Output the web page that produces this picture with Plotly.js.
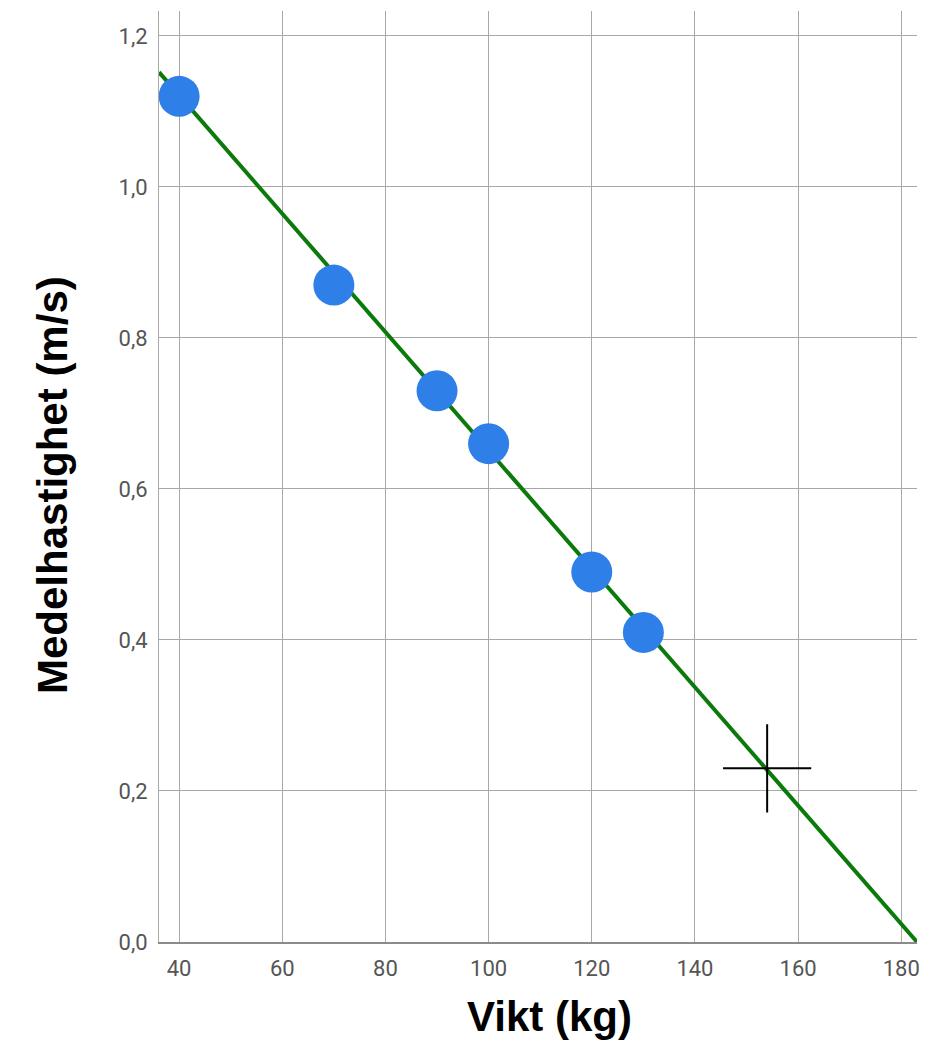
<!DOCTYPE html>
<html>
<head>
<meta charset="utf-8">
<script src="https://cdn.plot.ly/plotly-3.0.1.min.js"></script>
<style>html,body{margin:0;padding:0;background:#fff;}#chart{width:943px;height:1050px;}</style>
</head>
<body>
<div id="chart"></div>
<script>
// Measured data points
var weightKg = [40, 70, 90, 100, 120, 130];
var speedMs = [1.12, 0.87, 0.73, 0.66, 0.49, 0.41];

// Fitted line (end points)
var trendX = [36.1, 183.05];
var trendY = [1.152, 0];

// Highlighted (extrapolated) point
var markX = [154];
var markY = [0.23];

// Axis ticks
var xTicks = [40, 60, 80, 100, 120, 140, 160, 180];
var yTicks = [0, 0.2, 0.4, 0.6, 0.8, 1.0, 1.2];
var yTickText = ["0,0", "0,2", "0,4", "0,6", "0,8", "1,0", "1,2"];

// Axis titles
var xTitle = "Vikt (kg)";
var yTitle = "Medelhastighet (m/s)";

var traces = [
  {
    x: trendX, y: trendY, type: "scatter", mode: "lines",
    line: {color: "#0b7a0b", width: 4}, hoverinfo: "skip", cliponaxis: true
  },
  {
    x: weightKg, y: speedMs, type: "scatter", mode: "markers",
    marker: {color: "#2f7fe8", size: 41, line: {width: 0}}, cliponaxis: false
  },
  {
    x: markX, y: markY, type: "scatter", mode: "markers",
    marker: {symbol: "cross-thin", size: 63, color: "#000", line: {color: "#000", width: 2}},
    cliponaxis: false
  }
];

var titleFont = {family: "Liberation Sans, Arial, sans-serif", size: 42, color: "#000", weight: "bold"};

var layout = {
  width: 943, height: 1050,
  paper_bgcolor: "#fff", plot_bgcolor: "#fff",
  showlegend: false,
  margin: {l: 159, r: 26, t: 11, b: 108, pad: 0},
  font: {family: "Roboto, Arial, sans-serif", color: "#555"},
  xaxis: {
    range: [36.1, 183.05],
    tickvals: xTicks,
    ticktext: xTicks.map(String),
    showgrid: true, gridcolor: "#a8a8a8", gridwidth: 1,
    zeroline: false,
    showline: true, linecolor: "#8a8a8a", linewidth: 2,
    ticks: "", ticklabelstandoff: 6,
    tickfont: {family: "Roboto, sans-serif", size: 22, color: "#555"}
  },
  yaxis: {
    range: [0, 1.233],
    tickvals: yTicks,
    ticktext: yTickText,
    showgrid: true, gridcolor: "#a8a8a8", gridwidth: 1,
    zeroline: false,
    showline: true, linecolor: "#a8a8a8", linewidth: 1,
    ticks: "", ticklabelstandoff: 6,
    tickfont: {family: "Roboto, sans-serif", size: 22, color: "#555"}
  },
  annotations: [
    {text: xTitle, xref: "paper", yref: "paper", x: 0.5158, y: -0.0795,
     xanchor: "center", yanchor: "middle", showarrow: false, font: titleFont},
    {text: yTitle, xref: "paper", yref: "paper", x: -0.1398, y: 0.4909, textangle: -90,
     xanchor: "center", yanchor: "middle", showarrow: false, font: titleFont}
  ]
};

Plotly.newPlot("chart", traces, layout, {displayModeBar: false, staticPlot: true});
</script>
</body>
</html>
